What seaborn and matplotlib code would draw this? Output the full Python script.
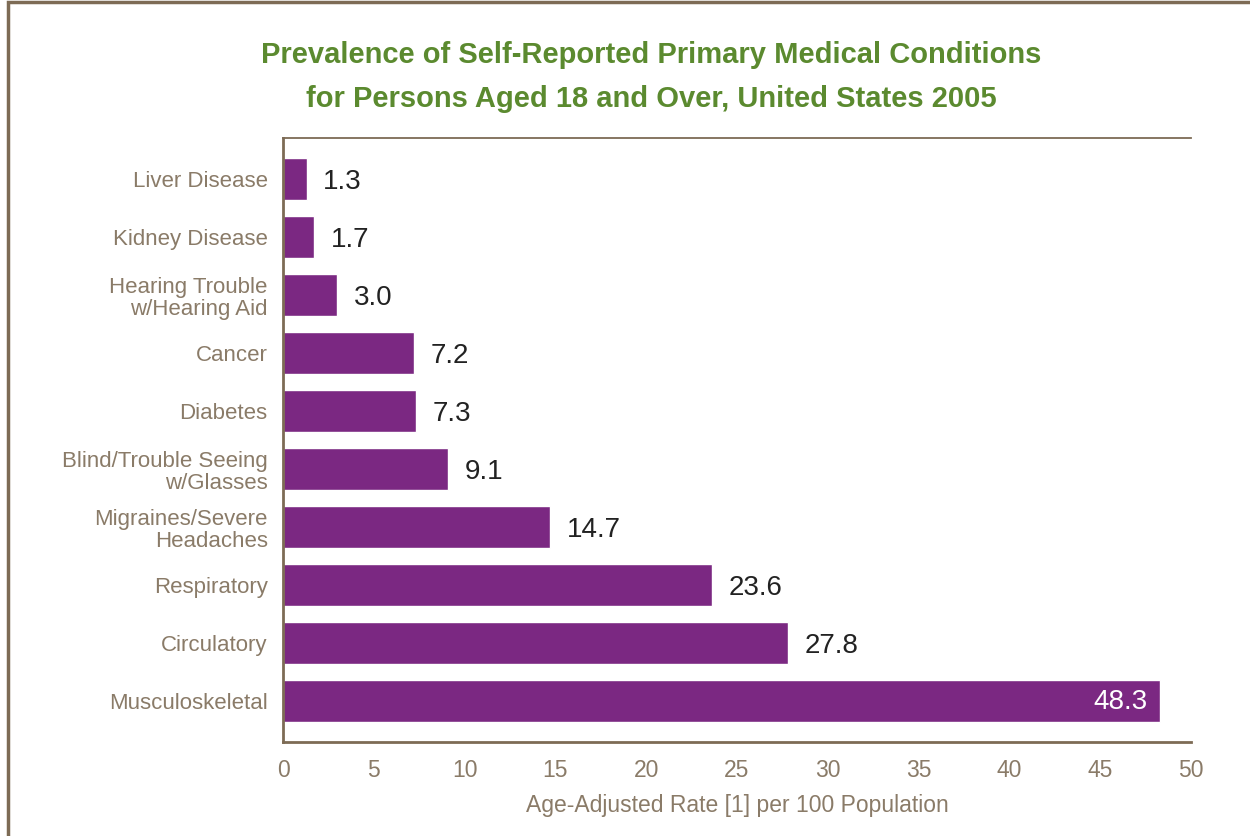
import matplotlib
matplotlib.use("Agg")
import matplotlib.pyplot as plt
import pandas as pd
import seaborn as sns
from matplotlib.patches import Rectangle

conditions = [
    "Liver Disease",
    "Kidney Disease",
    "Hearing Trouble\nw/Hearing Aid",
    "Cancer",
    "Diabetes",
    "Blind/Trouble Seeing\nw/Glasses",
    "Migraines/Severe\nHeadaches",
    "Respiratory",
    "Circulatory",
    "Musculoskeletal",
]
rates = [1.3, 1.7, 3.0, 7.2, 7.3, 9.1, 14.7, 23.6, 27.8, 48.3]
x_ticks = [0, 5, 10, 15, 20, 25, 30, 35, 40, 45, 50]

df = pd.DataFrame({"Condition": conditions, "Rate": rates})

brown = "#7d6b55"
label_col = "#8a7b68"
purple = "#7b2882"
green = "#5b8a2f"

sns.set_style("white")
plt.rcParams["font.family"] = ["Liberation Sans", "DejaVu Sans"]

fig = plt.figure(figsize=(12.5, 8.36), dpi=100)
ax = fig.add_axes([0.2264, 0.1124, 0.7264, 0.7225])

sns.barplot(data=df, x="Rate", y="Condition", color=purple, width=0.72,
            saturation=1, orient="h", ax=ax)

for i, v in enumerate(rates):
    if v > 40:
        ax.annotate(f"{v:.1f}", xy=(v, i), xytext=(-9, -1),
                    textcoords="offset points", ha="right", va="center",
                    fontsize=20, color="white")
    else:
        ax.annotate(f"{v:.1f}", xy=(v, i), xytext=(12, -2),
                    textcoords="offset points", ha="left", va="center",
                    fontsize=20, color="#222222")

ax.set_xlim(0, 50)
ax.set_ylim(9.707, -0.707)
ax.set_xticks(x_ticks)
ax.tick_params(axis="x", length=0, pad=12, labelsize=16.5, labelcolor=label_col)
ax.tick_params(axis="y", length=0, pad=11, labelsize=16, labelcolor=label_col)
for lab in ax.get_yticklabels():
    lab.set_linespacing(1.1)
ax.set_ylabel("")
ax.set_xlabel("Age-Adjusted Rate [1] per 100 Population", fontsize=16.5,
              color=label_col, labelpad=9)

for side in ["left", "bottom", "top"]:
    ax.spines[side].set_color(brown)
ax.spines["left"].set_linewidth(2)
ax.spines["bottom"].set_linewidth(2)
ax.spines["top"].set_linewidth(1.3)
ax.spines["right"].set_visible(False)

fig.text(0.521, 0.908,
         "Prevalence of Self-Reported Primary Medical Conditions\nfor Persons Aged 18 and Over, United States 2005",
         ha="center", va="center", fontsize=21, fontweight="bold",
         color=green, linespacing=1.7)

fig.patches.append(Rectangle((8 / 1250, -0.1), 1.2, 1.1 - 2 / 836,
                             transform=fig.transFigure, fill=False,
                             edgecolor=brown, linewidth=2.5))

fig.savefig("out.png", dpi=100)
